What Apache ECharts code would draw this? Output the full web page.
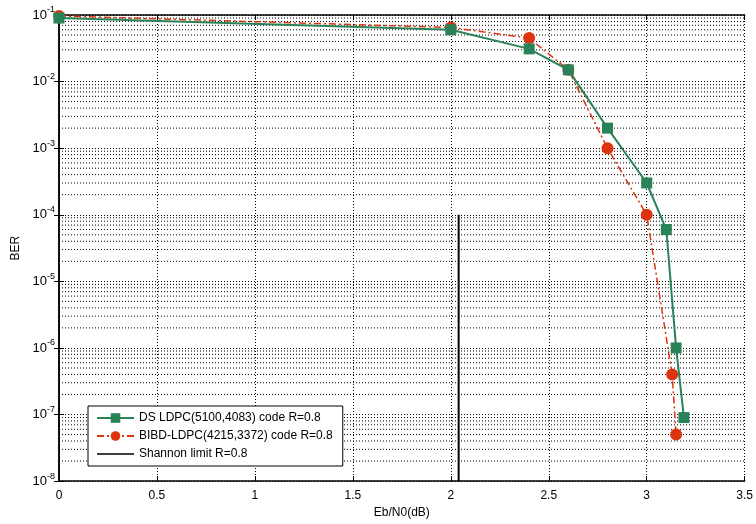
<!DOCTYPE html>
<html>
<head>
<meta charset="utf-8">
<script src="https://cdn.jsdelivr.net/npm/echarts@6/dist/echarts.min.js"></script>
<style>
  html, body { margin: 0; padding: 0; background: #fff; }
  #chart { width: 756px; height: 524px; }
</style>
</head>
<body>
<div id="chart"></div>
<script>
// DS LDPC(5100,4083)
var dsSnr = [0, 2, 2.4, 2.6, 2.8, 3.0, 3.1, 3.15, 3.19];
var dsBer = [0.09, 0.06, 0.031, 0.015, 0.002, 3e-4, 6e-5, 1e-6, 9e-8];
// BIBD-LDPC(4215,3372)
var bibdSnr = [0, 2, 2.4, 2.6, 2.8, 3.0, 3.13, 3.15];
var bibdBer = [0.097, 0.065, 0.045, 0.015, 0.001, 1e-4, 4e-7, 5e-8];
// Shannon limit
var shannonSnr = [2.04, 2.04];
var shannonBer = [1e-8, 1e-4];
var xTicks = [0, 0.5, 1, 1.5, 2, 2.5, 3, 3.5];
var decades = [-8, -7, -6, -5, -4, -3, -2, -1];

function pairs(xs, ys) {
  return xs.map(function (x, i) { return [x, ys[i]]; });
}

// minor grid lines 2..9 x 10^k, drawn as broken line segments across the plot
var minorGrid = [];
decades.slice(0, -1).forEach(function (k) {
  for (var m = 2; m <= 9; m++) {
    var v = m * Math.pow(10, k);
    minorGrid.push([xTicks[0], v], [xTicks[xTicks.length - 1], v], '-');
  }
});

var dotted = { color: '#000', type: [1, 2], width: 1 };
var font = 'Liberation Sans, Arial, sans-serif';

var myChart = echarts.init(document.getElementById('chart'));
var option = {
  animation: false,
  backgroundColor: '#fff',
  textStyle: { fontFamily: font },
  grid: { left: 59, right: 8, top: 15, bottom: 35 },
  legend: {
    orient: 'vertical',
    left: 88,
    top: 406,
    data: [
      { name: 'DS LDPC(5100,4083) code R=0.8' },
      { name: 'BIBD-LDPC(4215,3372) code R=0.8' },
      { name: 'Shannon limit R=0.8', icon: 'path://M0,5.3 L37,5.3 L37,6.7 L0,6.7 Z' }
    ],
    backgroundColor: '#fff',
    borderColor: '#000',
    borderWidth: 1,
    borderRadius: 0,
    padding: [6, 10, 6, 8],
    itemGap: 6,
    itemWidth: 37,
    itemHeight: 12,
    textStyle: { fontSize: 12, color: '#000', fontFamily: font }
  },
  xAxis: [{
    type: 'value',
    min: 0,
    max: 3.5,
    interval: 0.5,
    name: 'Eb/N0(dB)',
    nameLocation: 'middle',
    nameGap: 25,
    nameTextStyle: { fontSize: 12, color: '#000', fontFamily: font },
    axisLine: { lineStyle: { color: '#000', width: 1.5 } },
    axisTick: { inside: true, length: 5, lineStyle: { color: '#000' } },
    axisLabel: { fontSize: 12, color: '#000', margin: 9 },
    splitLine: { show: true, lineStyle: dotted }
  }, {
    type: 'value',
    position: 'top',
    min: 0,
    max: 3.5,
    interval: 0.5,
    axisLine: { lineStyle: { color: '#000', width: 1.5 } },
    axisTick: { inside: true, length: 5, lineStyle: { color: '#000' } },
    axisLabel: { show: false },
    splitLine: { show: false }
  }],
  yAxis: [{
    type: 'log',
    logBase: 10,
    min: 1e-8,
    max: 0.1,
    splitNumber: 7,
    name: 'BER',
    nameLocation: 'middle',
    nameGap: 33,
    nameTextStyle: { fontSize: 12, color: '#000', fontFamily: font },
    axisLine: { show: true, lineStyle: { color: '#000', width: 1.5 } },
    axisTick: { show: true, inside: true, length: 5, lineStyle: { color: '#000' } },
    axisLabel: {
      margin: 4,
      formatter: function (v) {
        var e = Math.round(Math.log10(v));
        return '10{sup|' + e + '}';
      },
      fontSize: 13,
      color: '#000',
      rich: { sup: { fontSize: 9, color: '#000', verticalAlign: 'top', padding: [0, 0, 10, 0] } }
    },
    splitLine: { show: true, lineStyle: dotted }
  }, {
    type: 'log',
    logBase: 10,
    min: 1e-8,
    max: 0.1,
    splitNumber: 7,
    position: 'right',
    axisLine: { show: true, lineStyle: { color: '#000', width: 1.5 } },
    axisTick: { show: true, inside: true, length: 5, lineStyle: { color: '#000' } },
    axisLabel: { show: false },
    splitLine: { show: false }
  }],
  series: [{
    name: 'minor',
    type: 'line',
    data: minorGrid,
    silent: true,
    symbol: 'none',
    connectNulls: false,
    lineStyle: dotted,
    z: 1
  }, {
    name: 'Shannon limit R=0.8',
    type: 'line',
    data: pairs(shannonSnr, shannonBer),
    showSymbol: false,
    symbol: 'none',
    lineStyle: { color: '#000', width: 2 },
    itemStyle: { color: '#000' },
    z: 3
  }, {
    name: 'BIBD-LDPC(4215,3372) code R=0.8',
    type: 'line',
    data: pairs(bibdSnr, bibdBer),
    symbol: 'circle',
    symbolSize: 12,
    lineStyle: { color: '#dd3311', width: 1.5, type: [7, 3, 2, 3] },
    itemStyle: { color: '#dd3311' },
    z: 4
  }, {
    name: 'DS LDPC(5100,4083) code R=0.8',
    type: 'line',
    data: pairs(dsSnr, dsBer),
    symbol: 'rect',
    symbolSize: 11,
    lineStyle: { color: '#2a8358', width: 2 },
    itemStyle: { color: '#2a8358' },
    z: 5
  }]
};
myChart.setOption(option);
</script>
</body>
</html>
